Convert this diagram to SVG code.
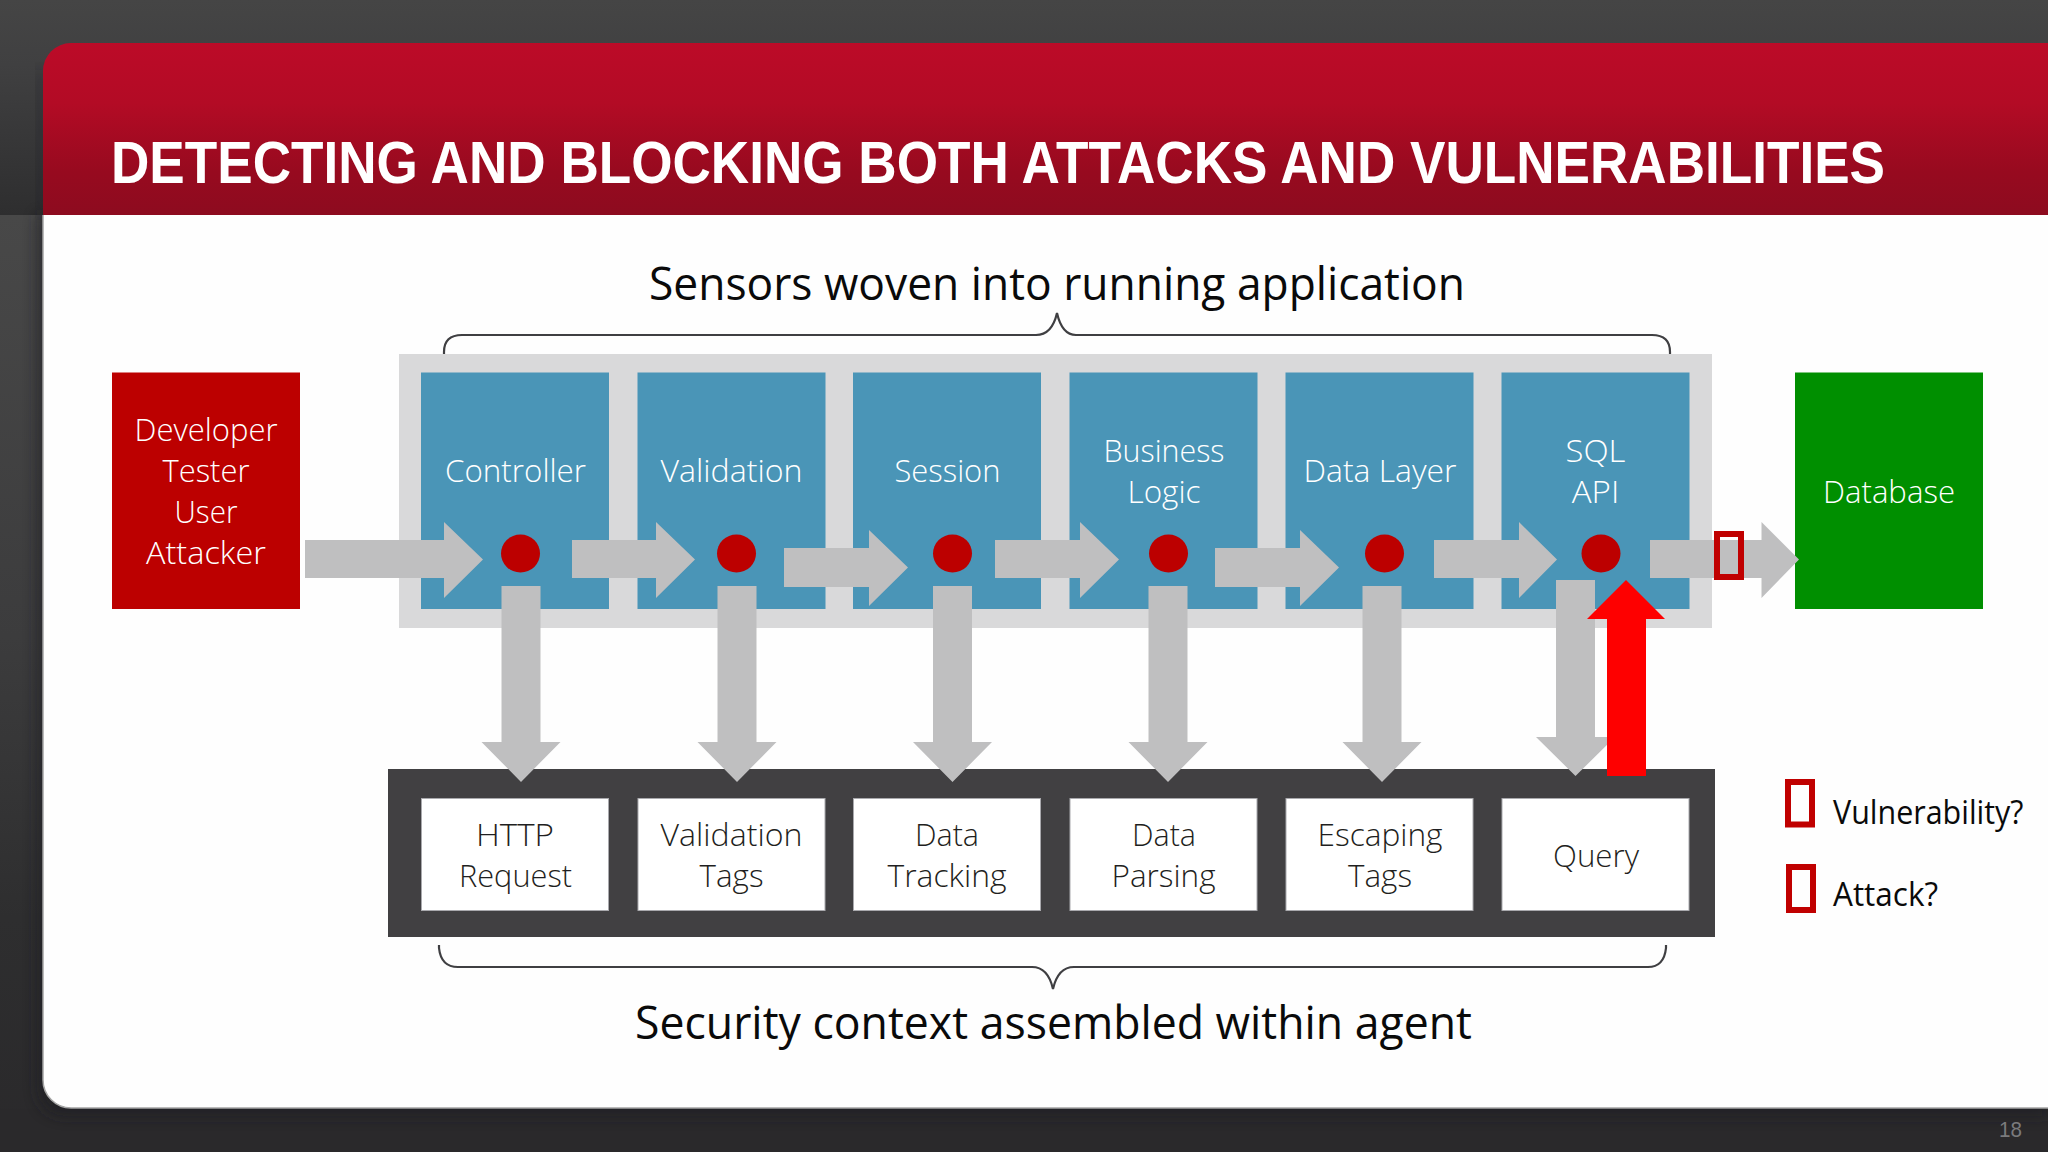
<svg xmlns="http://www.w3.org/2000/svg" width="2048" height="1152" viewBox="0 0 2048 1152">
<style>
.t{font-family:"Open Sans","Noto Sans",sans-serif;text-anchor:middle;font-size:31.500px;font-weight:300}
.w{fill:#fff}
.d{fill:#1f1f21}
.k{fill:#0a0a0a}
.big{font-size:45px;text-anchor:start;font-weight:400}
.leg{font-size:32px;text-anchor:start;font-weight:400}
.blue{fill:#4a95b7}
.white{fill:#fff;stroke:#a9a9ad;stroke-width:1}
.g{fill:#bfbfc0}
.dot{fill:#bc0000}
.mark{fill:none;stroke:#c00000;stroke-width:6}
.brace{fill:none;stroke:#3f3f42;stroke-width:2.2}
</style>
<defs>
<linearGradient id="hdr" x1="0" y1="0" x2="0" y2="1"><stop offset="0" stop-color="#bc0b28"/><stop offset="0.35" stop-color="#b30b25"/><stop offset="0.75" stop-color="#970a1f"/><stop offset="1" stop-color="#8d0b1f"/></linearGradient>
<linearGradient id="top" x1="0" y1="0" x2="0" y2="1"><stop offset="0" stop-color="#454545"/><stop offset="0.3" stop-color="#404041"/><stop offset="1" stop-color="#2e2e2f"/></linearGradient>
<linearGradient id="low" x1="0" y1="0" x2="0" y2="1"><stop offset="0" stop-color="#484848"/><stop offset="0.45" stop-color="#3c3c3d"/><stop offset="0.75" stop-color="#2e2e2f"/><stop offset="1" stop-color="#2a292b"/></linearGradient>
<filter id="sh" x="-5%" y="-5%" width="110%" height="110%"><feGaussianBlur stdDeviation="7"/></filter>
</defs>
<g id="background">
<rect width="2048" height="215" fill="url(#top)"/>
<rect y="215" width="2048" height="937" fill="url(#low)"/>
<rect x="0" y="1109" width="2048" height="43" fill="#2a292b"/>
<path d="M37 215V1085Q37 1116 68 1116H2048V1100H60V215Z" fill="#1f1f20" opacity="0.6" filter="url(#sh)"/>
<rect x="36" y="70" width="8" height="145" fill="#1f1f20" opacity="0.35" filter="url(#sh)"/>
</g>
<g id="slide">
<path d="M43 215H2048V1108H71A28 28 0 0 1 43 1080Z" fill="#fefefe"/>
<path d="M43 215V1080A28 28 0 0 0 71 1108H2048" fill="none" stroke="#a5a5a5" stroke-width="1.500"/>
<path d="M43 215V71A28 28 0 0 1 71 43H2048V215Z" fill="url(#hdr)"/>
<text transform="translate(111 183) scale(1 1.030)" x="0" y="0" font-family="'Liberation Sans',sans-serif" font-size="57" font-weight="700" fill="#fff" textLength="1774" lengthAdjust="spacingAndGlyphs">DETECTING AND BLOCKING BOTH ATTACKS AND VULNERABILITIES</text>
</g>
<g id="sensors-heading">
<text class="t k big" x="649" y="300" textLength="816" lengthAdjust="spacingAndGlyphs">Sensors woven into running application</text>
<path class="brace" d="M444 357V352Q444 335 462 335H1036Q1052 335 1057 313Q1062 335 1076 335H1652Q1670 335 1670 352V357"/>
</g>
<g id="app-panel"><rect x="399" y="354" width="1313" height="274" fill="#d9d9da"/></g>
<g id="context-panel"><rect x="388" y="769" width="1327" height="168" fill="#414042"/></g>
<g id="users"><rect x="112" y="372.500" width="188" height="236.500" fill="#bc0000"/>
<text class="t w" x="206" y="441" textLength="143" lengthAdjust="spacingAndGlyphs">Developer</text>
<text class="t w" x="206" y="482" textLength="87" lengthAdjust="spacingAndGlyphs">Tester</text>
<text class="t w" x="206" y="523" textLength="63" lengthAdjust="spacingAndGlyphs">User</text>
<text class="t w" x="206" y="564" textLength="120" lengthAdjust="spacingAndGlyphs">Attacker</text></g>
<g id="controller"><rect class="blue" x="421" y="372.500" width="188" height="236.500"/><text class="t w" x="515.500" y="482" textLength="141" lengthAdjust="spacingAndGlyphs">Controller</text></g>
<g id="validation"><rect class="blue" x="637.500" y="372.500" width="188" height="236.500"/><text class="t w" x="731.500" y="482" textLength="142" lengthAdjust="spacingAndGlyphs">Validation</text></g>
<g id="session"><rect class="blue" x="853" y="372.500" width="188" height="236.500"/><text class="t w" x="947.500" y="482" textLength="106" lengthAdjust="spacingAndGlyphs">Session</text></g>
<g id="business-logic"><rect class="blue" x="1069.500" y="372.500" width="188" height="236.500"/><text class="t w" x="1164" y="462" textLength="121" lengthAdjust="spacingAndGlyphs">Business</text><text class="t w" x="1164" y="503" textLength="73" lengthAdjust="spacingAndGlyphs">Logic</text></g>
<g id="data-layer"><rect class="blue" x="1285.500" y="372.500" width="188" height="236.500"/><text class="t w" x="1380" y="482" textLength="153" lengthAdjust="spacingAndGlyphs">Data Layer</text></g>
<g id="sql-api"><rect class="blue" x="1501.500" y="372.500" width="188" height="236.500"/><text class="t w" x="1595.500" y="462" textLength="60" lengthAdjust="spacingAndGlyphs">SQL</text><text class="t w" x="1595.500" y="503" textLength="47.500" lengthAdjust="spacingAndGlyphs">API</text></g>
<g id="database"><rect x="1795" y="372.500" width="188" height="236.500" fill="#008f00"/><text class="t w" x="1889" y="503" textLength="132" lengthAdjust="spacingAndGlyphs">Database</text></g>
<g id="http-request"><rect class="white" x="421.500" y="798.500" width="187" height="112"/><text class="t d" x="515" y="846" textLength="78" lengthAdjust="spacingAndGlyphs">HTTP</text><text class="t d" x="515.500" y="887" textLength="113" lengthAdjust="spacingAndGlyphs">Request</text></g>
<g id="validation-tags"><rect class="white" x="638" y="798.500" width="187" height="112"/><text class="t d" x="731.500" y="846" textLength="142" lengthAdjust="spacingAndGlyphs">Validation</text><text class="t d" x="731.500" y="887" textLength="64" lengthAdjust="spacingAndGlyphs">Tags</text></g>
<g id="data-tracking"><rect class="white" x="853.500" y="798.500" width="187" height="112"/><text class="t d" x="947" y="846" textLength="64" lengthAdjust="spacingAndGlyphs">Data</text><text class="t d" x="947" y="887" textLength="119" lengthAdjust="spacingAndGlyphs">Tracking</text></g>
<g id="data-parsing"><rect class="white" x="1070" y="798.500" width="187" height="112"/><text class="t d" x="1164" y="846" textLength="64" lengthAdjust="spacingAndGlyphs">Data</text><text class="t d" x="1163.500" y="887" textLength="104" lengthAdjust="spacingAndGlyphs">Parsing</text></g>
<g id="escaping-tags"><rect class="white" x="1286" y="798.500" width="187" height="112"/><text class="t d" x="1380" y="846" textLength="125" lengthAdjust="spacingAndGlyphs">Escaping</text><text class="t d" x="1380" y="887" textLength="64" lengthAdjust="spacingAndGlyphs">Tags</text></g>
<g id="query"><rect class="white" x="1502" y="798.500" width="187" height="112"/><text class="t d" x="1596" y="867" textLength="86" lengthAdjust="spacingAndGlyphs">Query</text></g>
<g id="connectors">
<polygon class="g" points="305,540 444,540 444,522 483,559.500 444,598 444,578 305,578"/>
<polygon class="g" points="572,540 656,540 656,522 695,559.500 656,598 656,578 572,578"/>
<polygon class="g" points="784,548 869,548 869,530 908,567.500 869,606 869,587 784,587"/>
<polygon class="g" points="995,540 1080,540 1080,522 1119,559.500 1080,598 1080,578 995,578"/>
<polygon class="g" points="1215,548 1300,548 1300,530 1339,567.500 1300,606 1300,587 1215,587"/>
<polygon class="g" points="1434,540 1519,540 1519,522 1557,559.500 1519,598 1519,578 1434,578"/>
<polygon class="g" points="1650,540 1761.500,540 1761.500,522 1799,559.500 1761.500,598 1761.500,578 1650,578"/>
<polygon class="g" points="501.500,586 540.500,586 540.500,742 560.500,742 521,782 481.500,742 501.500,742"/>
<polygon class="g" points="717.500,586 756.500,586 756.500,742 776.500,742 737,782 697.500,742 717.500,742"/>
<polygon class="g" points="933,586 972,586 972,742 992,742 952.500,782 913,742 933,742"/>
<polygon class="g" points="1148.500,586 1187.500,586 1187.500,742 1207.500,742 1168,782 1128.500,742 1148.500,742"/>
<polygon class="g" points="1362.500,586 1401.500,586 1401.500,742 1421.500,742 1382,782 1342.500,742 1362.500,742"/>
<polygon class="g" points="1556,580 1595,580 1595,737 1615,737 1575.500,776 1536,737 1556,737"/>
<polygon points="1607,776 1646,776 1646,619 1665,619 1626,580 1587,619 1607,619" fill="#fe0000"/>
<rect class="mark" x="1717" y="534" width="24" height="43"/>
</g>
<g id="sensors">
<ellipse class="dot" cx="520.500" cy="553.500" rx="19.500" ry="19"/>
<ellipse class="dot" cx="736.500" cy="553.500" rx="19.500" ry="19"/>
<ellipse class="dot" cx="952.500" cy="553.500" rx="19.500" ry="19"/>
<ellipse class="dot" cx="1168.500" cy="553.500" rx="19.500" ry="19"/>
<ellipse class="dot" cx="1384.500" cy="553.500" rx="19.500" ry="19"/>
<ellipse class="dot" cx="1601" cy="553.500" rx="19.500" ry="19"/>
</g>
<g id="context-heading">
<path class="brace" d="M439 945V948Q441 967 458 967H1032Q1048 967 1053 989Q1058 967 1074 967H1648Q1664 967 1666 948V945"/>
<text class="t k big" x="635" y="1039" textLength="837" lengthAdjust="spacingAndGlyphs">Security context assembled within agent</text>
</g>
<g id="legend">
<rect class="mark" x="1788" y="782" width="24" height="42.500"/>
<text class="t k leg" x="1833" y="824" textLength="190.500" lengthAdjust="spacingAndGlyphs">Vulnerability?</text>
<rect class="mark" x="1789" y="867" width="24" height="43"/>
<text class="t k leg" x="1833" y="905.500" textLength="105" lengthAdjust="spacingAndGlyphs">Attack?</text>
</g>
<text id="page-number" x="1999" y="1137" font-family="'Liberation Sans',sans-serif" font-size="22" fill="#7a7a7c" textLength="23" lengthAdjust="spacingAndGlyphs">18</text>
</svg>
